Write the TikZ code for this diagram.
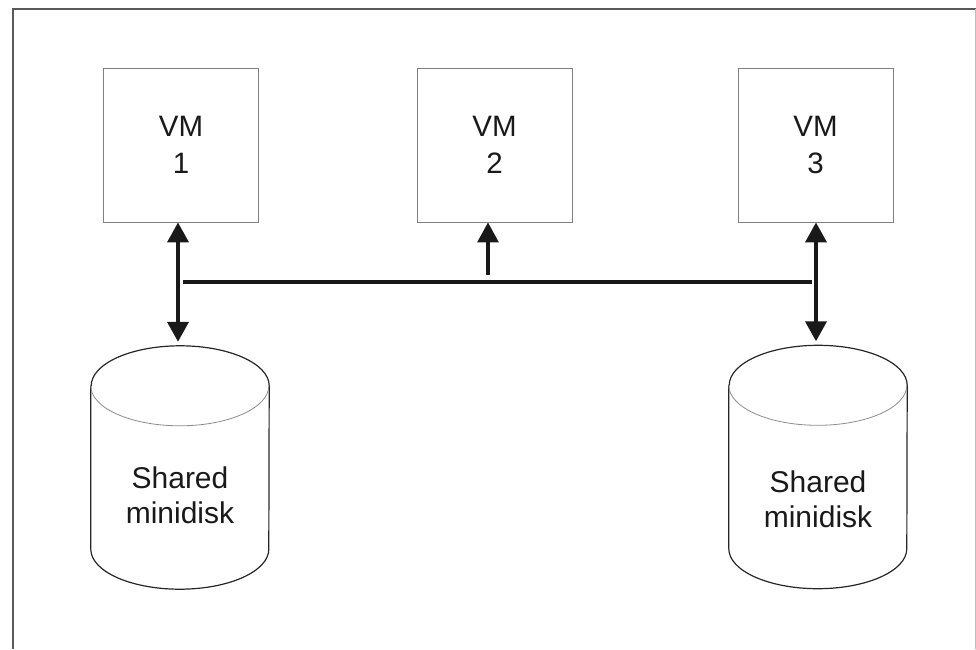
\documentclass[tikz,border=0pt]{standalone}
\usepackage{fontspec}
\setmainfont{Liberation Sans}
\usetikzlibrary{arrows.meta}
\begin{document}
\begin{tikzpicture}[x=1pt,y=1pt,
  vmbox/.style={draw=black!50,line width=0.9pt,minimum width=155pt,minimum height=154pt,inner sep=0pt,align=center,text=black!90,font=\fontsize{29.5}{37}\selectfont},
  diskbody/.style={minimum width=178pt,minimum height=243pt,inner sep=0pt},
  disktext/.style={align=center,text=black!90,font=\fontsize{30}{35}\selectfont},
  diskline/.style={draw=black!85,line width=1.2pt},
  innerline/.style={draw=black!45,line width=0.8pt},
  dblarrow/.style={line width=3.8pt,black!90,{Triangle[width=21pt,length=20pt]}-{Triangle[width=21pt,length=20pt]}},
  onearrow/.style={line width=3.2pt,black!90,-{Triangle[width=21pt,length=20pt]}},
  busline/.style={line width=3.2pt,black!90}]
\useasboundingbox (0,0) rectangle (976,649);
% frame
\draw[black!65,line width=1.3pt] (13,0) -- (13,640) -- (975.5,640);
\draw[black!25,line width=1pt] (975.5,640) -- (975.5,0);
% VM boxes
\node[vmbox] (vm1) at (181,504) {VM\\1};
\node[vmbox] (vm2) at (494.5,504) {VM\\2};
\node[vmbox] (vm3) at (815.5,504) {VM\\3};
% disks
\node[diskbody] (d1) at (180,181.5) {};
\node[diskbody] (d3) at (818,182) {};
\foreach \d in {d1,d3}{
  \draw[diskline] ([yshift=-40pt]\d.north west) -- ([yshift=40pt]\d.south west)
    arc[start angle=180,end angle=360,x radius=89pt,y radius=40pt]
    -- ([yshift=-40pt]\d.north east)
    arc[start angle=0,end angle=180,x radius=89pt,y radius=40pt];
  \draw[innerline] ([yshift=-40pt]\d.north west)
    arc[start angle=180,end angle=360,x radius=89pt,y radius=40pt];
}
\node[disktext] (t1) at ([yshift=-28pt]d1.center) {Shared\\minidisk};
\node[disktext] (t3) at ([yshift=-32pt]d3.center) {Shared\\minidisk};
% connectors
\draw[dblarrow] ([xshift=-3pt]vm1.south) -- ([xshift=-2pt,yshift=4pt]d1.north);
\draw[dblarrow] ([xshift=0.5pt]vm3.south) -- ([xshift=-2pt,yshift=4pt]d3.north);
\coordinate (j1) at (183,367);
\coordinate (j3) at (812,367);
\coordinate (j2) at (488,374);
\draw[busline] (j1) -- (j3);
\draw[onearrow] (j2) -- (vm2.south -| j2);
\end{tikzpicture}
\end{document}
